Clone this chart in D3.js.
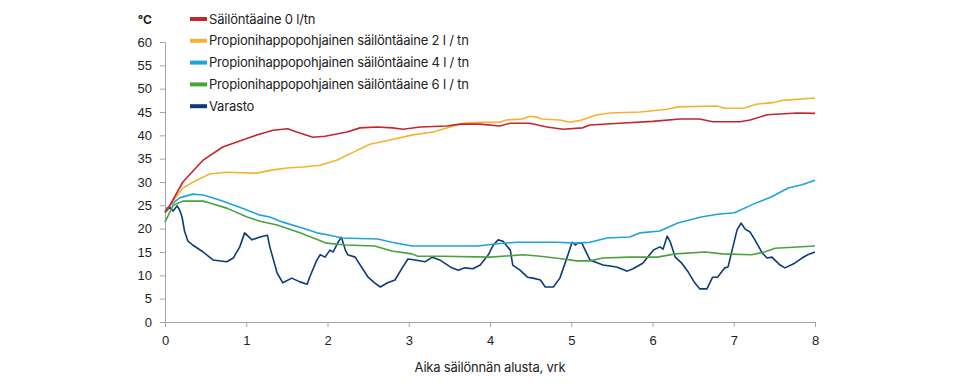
<!DOCTYPE html>
<html>
<head>
<meta charset="utf-8">
<script src="https://cdn.jsdelivr.net/npm/d3@7"></script>
<style>
  body { margin: 0; background: #fff; }
  svg { font-family: Inter, "Open Sans", sans-serif; }
</style>
</head>
<body>
<div id="chart"></div>
<script>
// [vrk, °C]
const sailontaaine0 = [
  [0, 23.5], [0.06, 25], [0.22, 30], [0.47, 34.7], [0.71, 37.5], [1.05, 39.6], [1.17, 40.3],
  [1.33, 41.1], [1.51, 41.4], [1.62, 40.7], [1.82, 39.6], [1.97, 39.8], [2.24, 40.7],
  [2.4, 41.6], [2.61, 41.8], [2.8, 41.6], [2.93, 41.3], [3.14, 41.8], [3.47, 42], [3.63, 42.4],
  [3.88, 42.4], [4.12, 42], [4.25, 42.6], [4.49, 42.6], [4.7, 41.8], [4.9, 41.3], [5.14, 41.6],
  [5.23, 42.2], [5.6, 42.6], [6.0, 43], [6.34, 43.5], [6.58, 43.5], [6.74, 42.9], [7.08, 42.9],
  [7.2, 43.3], [7.41, 44.4], [7.78, 44.8], [8.0, 44.7]
];
const propioni2 = [
  [0, 23.5], [0.06, 25], [0.22, 28.7], [0.39, 30.4], [0.55, 31.7], [0.76, 32.1], [1.13, 31.9],
  [1.33, 32.6], [1.5, 33], [1.7, 33.2], [1.91, 33.6], [2.12, 34.7], [2.32, 36.4], [2.52, 38.1],
  [2.77, 39], [3.05, 40.1], [3.3, 40.7], [3.51, 41.8], [3.67, 42.6], [3.88, 42.8], [4.12, 42.8],
  [4.2, 43.3], [4.4, 43.5], [4.49, 44.1], [4.57, 43.9], [4.64, 43.5], [4.86, 43.3], [4.98, 42.8],
  [5.11, 43.2], [5.32, 44.4], [5.48, 44.8], [5.85, 45], [6.18, 45.6], [6.31, 46.1], [6.8, 46.3],
  [6.88, 45.8], [7.12, 45.8], [7.29, 46.7], [7.48, 47], [7.61, 47.5], [8.0, 48]
];
const propioni4 = [
  [0, 23.8], [0.02, 24.4], [0.18, 26.6], [0.34, 27.4], [0.47, 27.2], [0.68, 26.1], [0.92, 24.6],
  [1.17, 22.9], [1.29, 22.5], [1.45, 21.4], [1.7, 20.1], [1.87, 19.1], [2.03, 18.6], [2.18, 18],
  [2.62, 17.8], [2.79, 17.1], [3.04, 16.3], [3.41, 16.3], [3.85, 16.3], [4.06, 16.7], [4.33, 17.1],
  [4.82, 17.1], [5.07, 16.9], [5.23, 17.1], [5.44, 18], [5.72, 18.2], [5.85, 19.1], [6.09, 19.5],
  [6.31, 21.2], [6.6, 22.5], [6.8, 23.1], [7.01, 23.4], [7.22, 25.1], [7.46, 26.8], [7.67, 28.7],
  [7.84, 29.4], [8.0, 30.4]
];
const propioni6 = [
  [0, 21.4], [0.1, 25], [0.22, 25.9], [0.47, 25.9], [0.55, 25.5], [0.76, 24.4], [1.01, 22.5],
  [1.17, 21.6], [1.38, 20.8], [1.66, 19.1], [1.99, 16.9], [2.22, 16.5], [2.58, 16.3], [2.79, 15.2],
  [3.04, 14.6], [3.11, 14.1], [3.41, 14.1], [4.0, 13.9], [4.41, 14.4], [4.62, 14.1], [4.9, 13.5],
  [5.07, 13.1], [5.23, 13.1], [5.39, 13.7], [5.72, 13.9], [6.06, 13.9], [6.28, 14.6], [6.65, 15],
  [6.86, 14.6], [7.22, 14.4], [7.38, 15], [7.51, 15.8], [8.0, 16.3]
];
const varasto = [
  [0, 23.5], [0.06, 24.6], [0.1, 23.8], [0.15, 24.9], [0.18, 24], [0.21, 22.5], [0.24, 19.5],
  [0.28, 17.4], [0.34, 16.5], [0.47, 15], [0.59, 13.3], [0.76, 12.9], [0.84, 13.7], [0.92, 16.1], [0.98, 19.1],
  [1.07, 17.6], [1.17, 18.2], [1.26, 18.6], [1.29, 16.1], [1.38, 10.5], [1.45, 8.4], [1.56, 9.4],
  [1.66, 8.6], [1.75, 8.1], [1.78, 9.6], [1.87, 13.3], [1.91, 14.4], [1.97, 13.9], [2.03, 15.4],
  [2.07, 15], [2.13, 17.1], [2.17, 18.2], [2.22, 15.4], [2.25, 14.4], [2.34, 13.9], [2.5, 9.6],
  [2.58, 8.4], [2.65, 7.5], [2.74, 8.4], [2.83, 9], [2.92, 11.6], [2.99, 13.5], [3.08, 13.3],
  [3.2, 12.9], [3.29, 13.9], [3.38, 13.3], [3.53, 11.6], [3.61, 11.1], [3.69, 11.6], [3.79, 11.4],
  [3.88, 12.2], [3.98, 14.4], [4.04, 16.5], [4.1, 17.6], [4.16, 17.3], [4.25, 15.4], [4.28, 12.2],
  [4.37, 11.1], [4.46, 9.6], [4.53, 9.4], [4.62, 9], [4.68, 7.5], [4.78, 7.5], [4.86, 9.4],
  [4.95, 13.9], [5.01, 17.1], [5.05, 16.5], [5.08, 16.9], [5.13, 16.9], [5.23, 13.3], [5.39, 12.2],
  [5.56, 11.8], [5.69, 10.9], [5.76, 11.4], [5.88, 12.6], [6.01, 15.4], [6.09, 16.1], [6.13, 15.6],
  [6.18, 18.4], [6.22, 17.1], [6.28, 13.9], [6.36, 12.6], [6.44, 10.7], [6.52, 8.4], [6.58, 7.1],
  [6.67, 7.1], [6.74, 9.6], [6.8, 9.6], [6.89, 11.6], [6.93, 11.8], [6.98, 15.4], [7.04, 19.7],
  [7.09, 21.2], [7.14, 19.9], [7.2, 19.3], [7.26, 17.6], [7.35, 14.8], [7.41, 13.7], [7.47, 13.9],
  [7.57, 12.2], [7.63, 11.6], [7.75, 12.6], [7.84, 13.7], [7.91, 14.4], [8.0, 15]
];

const seriesNames = [
  "Säilöntäaine 0 l/tn",
  "Propionihappopohjainen säilöntäaine 2 l / tn",
  "Propionihappopohjainen säilöntäaine 4 l / tn",
  "Propionihappopohjainen säilöntäaine 6 l / tn",
  "Varasto"
];
const seriesColors = ["#c1272d", "#f2b330", "#1ea3dc", "#4aa23c", "#0c3b7a"];
const seriesData = [sailontaaine0, propioni2, propioni4, propioni6, varasto];

const xTicks = [0, 1, 2, 3, 4, 5, 6, 7, 8];
const yTicks = [0, 5, 10, 15, 20, 25, 30, 35, 40, 45, 50, 55, 60];

const width = 956;
const height = 389;
const margin = { top: 42, right: 141, bottom: 67, left: 165 };

const svg = d3
  .select("#chart")
  .append("svg")
  .attr("width", width)
  .attr("height", height);

const x = d3.scaleLinear().domain([0, 8]).range([margin.left, width - margin.right]);
const y = d3.scaleLinear().domain([0, 60]).range([height - margin.bottom, margin.top]);

const axisColor = "#a6a6a6";
const textColor = "#222";

svg
  .append("g")
  .attr("transform", `translate(0,${height - margin.bottom})`)
  .call(d3.axisBottom(x).tickValues(xTicks).tickSize(5).tickPadding(9))
  .call((g) => g.select(".domain").attr("stroke", axisColor))
  .call((g) => g.selectAll(".tick line").attr("stroke", axisColor))
  .call((g) =>
    g.selectAll(".tick text").attr("fill", textColor).attr("font-size", 13)
  );

svg
  .append("g")
  .attr("transform", `translate(${margin.left},0)`)
  .call(d3.axisLeft(y).tickValues(yTicks).tickSize(5).tickPadding(8))
  .call((g) => g.select(".domain").attr("stroke", axisColor))
  .call((g) => g.selectAll(".tick line").attr("stroke", axisColor))
  .call((g) =>
    g.selectAll(".tick text").attr("fill", textColor).attr("font-size", 13)
  );

svg
  .append("text")
  .attr("x", 152)
  .attr("y", 24)
  .attr("text-anchor", "end")
  .attr("font-size", 12)
  .attr("font-weight", "bold")
  .attr("fill", textColor)
  .text("°C");

svg
  .append("text")
  .attr("x", (x(0) + x(8)) / 2)
  .attr("y", 372)
  .attr("text-anchor", "middle")
  .attr("font-size", 13)
  .attr("letter-spacing", -0.2)
  .attr("fill", textColor)
  .text("Aika säilönnän alusta, vrk");

const line = d3
  .line()
  .x((d) => x(d[0]))
  .y((d) => y(d[1]));

// Varasto first so the others sit on top like in the original
const order = [4, 3, 2, 1, 0];
svg
  .append("g")
  .selectAll("path")
  .data(order)
  .join("path")
  .attr("d", (i) => line(seriesData[i]))
  .attr("fill", "none")
  .attr("stroke", (i) => seriesColors[i])
  .attr("stroke-width", 1.6)
  .attr("stroke-linejoin", "round");

const legend = svg
  .append("g")
  .selectAll("g")
  .data(seriesNames)
  .join("g")
  .attr("transform", (d, i) => `translate(190,${19 + i * 21.8})`);

legend
  .append("rect")
  .attr("y", -2)
  .attr("width", 17)
  .attr("height", 4)
  .attr("fill", (d, i) => seriesColors[i]);

legend
  .append("text")
  .attr("x", 19)
  .attr("dy", "0.35em")
  .attr("font-size", 13)
  .attr("letter-spacing", -0.2)
  .attr("fill", textColor)
  .text((d) => d);
</script>
</body>
</html>
